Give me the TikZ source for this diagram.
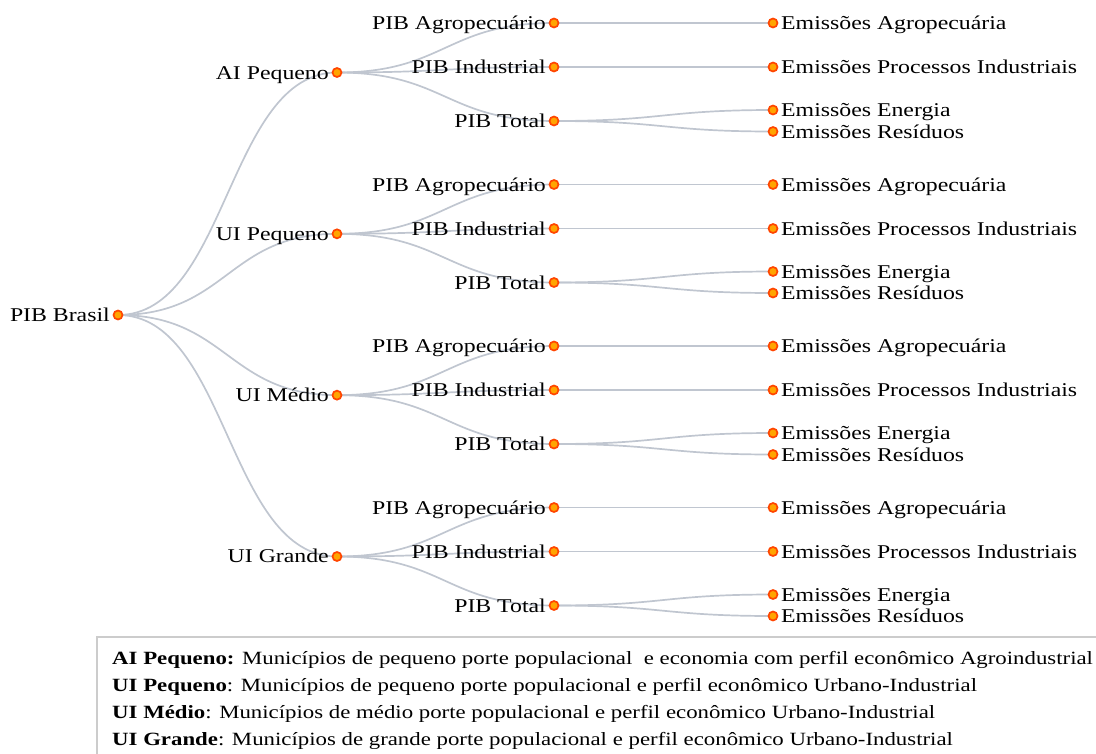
\documentclass[tikz,border=0pt]{standalone}
\usepackage{fontspec}
\setmainfont{Liberation Serif}[FakeStretch=1.22]
\usetikzlibrary{calc,backgrounds}
\definecolor{linkc}{HTML}{C0C6D0}
\definecolor{dotfill}{HTML}{FFA500}
\definecolor{dotdraw}{HTML}{FF4500}
\definecolor{boxc}{HTML}{CCCCCC}
\tikzset{
  dotnode/.style={circle, fill=dotfill, draw=dotdraw, line width=1.7pt, inner sep=0pt, minimum size=9pt},
  link/.style={draw=linkc, line width=1.7pt},
  lbl/.style={inner sep=0pt, font=\fontsize{19.5}{23}\selectfont, text=black},
  leg/.style={inner sep=0pt, font=\fontsize{18.7}{23}\selectfont, text=black},
  legbox/.style={draw=boxc, line width=1.5pt},
}
\newcommand\dlink[2]{\draw[link] let \p1=(#1.center), \p2=(#2.center) in (\p1) .. controls ({(\x1+\x2)/2},\y1) and ({(\x1+\x2)/2},\y2) .. (\p2);}
\begin{document}
\begin{tikzpicture}[x=1pt,y=-1pt]
\useasboundingbox (0,0) rectangle (1096,753);
\clip (0,0) rectangle (1096,753);
\node[dotnode] (root) at (118,315) {};
\node[lbl, anchor=base east] (rootl) at (110,321.5) {PIB Brasil};
\foreach \k/\nm in {0/AI Pequeno,1/UI Pequeno,2/UI Médio,3/UI Grande} {
  \pgfmathsetmacro\gy{22+161.5*\k}
  \pgfmathsetmacro\py{72.5+161.33*\k}
  \node[dotnode] (p\k) at (337,\py) {};
  \node[lbl, anchor=base east] (pl\k) at (329,\py+6.5) {\nm};
  \node[dotnode] (a\k) at (554,\gy+1) {};
  \node[lbl, anchor=base east] (al\k) at (546,\gy+7.5) {PIB Agropecuário};
  \node[dotnode] (i\k) at (554,\gy+45) {};
  \node[lbl, anchor=base east] (il\k) at (546,\gy+51.5) {PIB Industrial};
  \node[dotnode] (t\k) at (554,\gy+99) {};
  \node[lbl, anchor=base east] (tl\k) at (546,\gy+105.5) {PIB Total};
  \node[dotnode] (la\k) at (773,\gy+1) {};
  \node[lbl, anchor=base west] (lal\k) at (781,\gy+7.5) {Emissões Agropecuária};
  \node[dotnode] (li\k) at (773,\gy+45) {};
  \node[lbl, anchor=base west] (lil\k) at (781,\gy+51.5) {Emissões Processos Industriais};
  \node[dotnode] (le\k) at (773,\gy+88) {};
  \node[lbl, anchor=base west] (lel\k) at (781,\gy+94.5) {Emissões Energia};
  \node[dotnode] (lr\k) at (773,\gy+109.5) {};
  \node[lbl, anchor=base west] (lrl\k) at (781,\gy+116) {Emissões Resíduos};
  \begin{scope}[on background layer]
    \dlink{root}{p\k}
    \dlink{p\k}{a\k}
    \dlink{p\k}{i\k}
    \dlink{p\k}{t\k}
    \dlink{a\k}{la\k}
    \dlink{i\k}{li\k}
    \dlink{t\k}{le\k}
    \dlink{t\k}{lr\k}
  \end{scope}
}
\draw[legbox] (97,637) rectangle (1120,790);
\node[leg, anchor=base west] (lg1) at (112,664) {\textbf{AI Pequeno:} Municípios de pequeno porte populacional\ \ e economia com perfil econômico Agroindustrial};
\node[leg, anchor=base west] (lg2) at (112,691) {\textbf{UI Pequeno}: Municípios de pequeno porte populacional e perfil econômico Urbano-Industrial};
\node[leg, anchor=base west] (lg3) at (112,718) {\textbf{UI Médio}: Municípios de médio porte populacional e perfil econômico Urbano-Industrial};
\node[leg, anchor=base west] (lg4) at (112,745) {\textbf{UI Grande}: Municípios de grande porte populacional e perfil econômico Urbano-Industrial};
\end{tikzpicture}
\end{document}
